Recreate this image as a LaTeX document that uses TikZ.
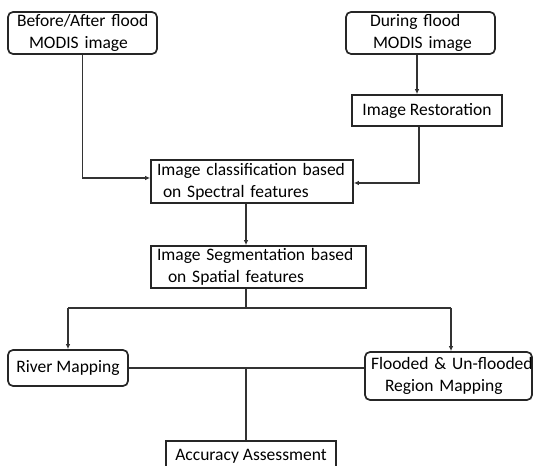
\documentclass[tikz,border=0pt]{standalone}
\usepackage{fontspec}
\setmainfont{Carlito}
\usetikzlibrary{arrows.meta}
\begin{document}
\begin{tikzpicture}[x=1pt,y=1pt,
  font=\fontsize{17.5}{22}\selectfont,
  every node/.style={text=black},
  boxr/.style={draw=black!85, line width=1.7pt, fill=white, rounded corners=5pt, inner ysep=0pt, align=left},
  boxs/.style={draw=black!85, line width=1.7pt, fill=white, inner ysep=0pt, align=left},
  conn/.style={draw=black!80, line width=1.3pt},
  arr/.style={conn, -{Latex[length=5pt,width=4.5pt]}}]
\clip (0,0) rectangle (533,466);
\fill[white] (0,0) rectangle (533,466);

\node[boxr, minimum width=149, minimum height=42, text width=131, inner xsep=9] (b1) at (82.5,433)
  {\mbox{Before/After flood}\\\mbox{\hspace*{12pt}MODIS image}};
\node[boxr, minimum width=149, minimum height=42, text width=101, inner xsep=24] (b2) at (420.5,433)
  {\mbox{During flood}\\\mbox{\hspace*{3pt}MODIS image}};
\node[boxs, minimum width=150, minimum height=31, align=center] (b3) at (427,355.5)
  {Image Restoration};
\node[boxs, minimum width=202, minimum height=43, text width=190, inner xsep=6] (b4) at (252,284.5)
  {\mbox{Image classification based}\\\mbox{\hspace*{6pt}on Spectral features}};
\node[boxs, minimum width=215, minimum height=42, text width=203, inner xsep=6] (b5) at (258.5,199)
  {\mbox{Image Segmentation based}\\\mbox{\hspace*{11pt}on Spatial features}};
\node[boxr, minimum width=120, minimum height=36, align=center] (rm) at (68,98)
  {River Mapping};
\node[boxr, minimum width=167, minimum height=48, text width=155, inner xsep=6] (fm) at (448.5,90)
  {\mbox{Flooded \& Un-flooded}\\\mbox{\hspace*{14pt}Region Mapping}};
\node[boxs, minimum width=170, minimum height=31, align=center] (aa) at (251,9.5)
  {Accuracy Assessment};

% inputs
\draw[arr] (b1.south) |- ([yshift=3.5pt]b4.west);
\draw[arr] ([xshift=-3.5pt]b2.south) -- ([xshift=-3.5pt]b2.south |- b3.north);
\draw[arr] ([xshift=-8pt]b3.south) |- ([yshift=-1.5pt]b4.east);
\draw[arr] ([xshift=-6pt]b4.south) -- ([xshift=-6pt]b4.south |- b5.north);

% split
\coordinate (sp) at (246,158);
\coordinate (spl) at (68,158);
\coordinate (spr) at (451,158);
\draw[conn] ([xshift=-12.5pt]b5.south) -- (sp);
\draw[conn] (spl) -- (spr);
\draw[arr] (spl) -- (spl |- rm.north);
\draw[arr] (spr) -- (spr |- fm.north);

% join
\coordinate (jn) at (246,98);
\draw[conn] (rm.east) -- (rm.east -| fm.west);
\draw[conn] (jn) -- (jn |- aa.north);
\end{tikzpicture}
\end{document}
